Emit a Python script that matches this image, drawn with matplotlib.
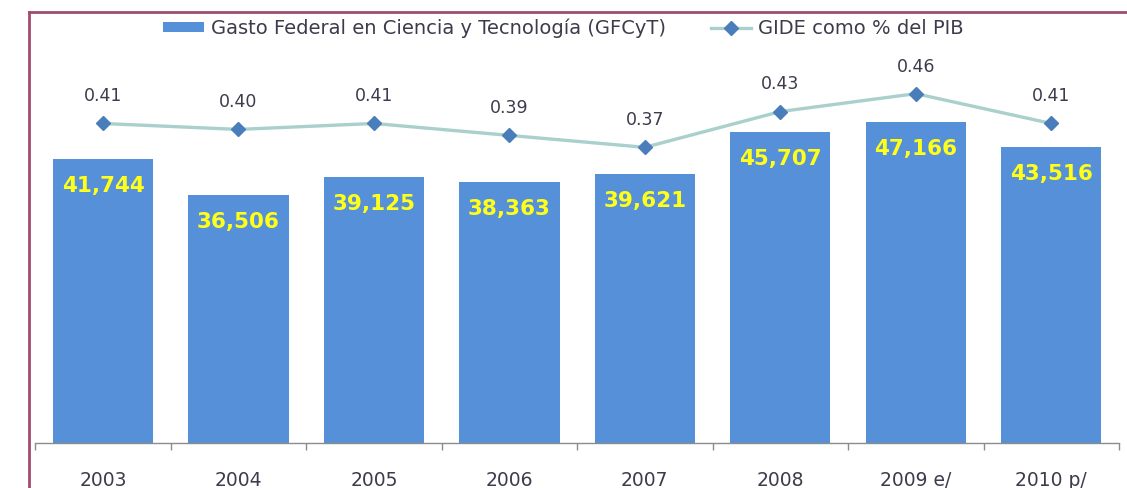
import matplotlib
matplotlib.use('Agg')
import matplotlib.pyplot as plt
from matplotlib.lines import Line2D
from matplotlib.ticker import FixedLocator

# datos
anios = ['2003', '2004', '2005', '2006', '2007', '2008', '2009 e/', '2010 p/']
gfcyt = [41744, 36506, 39125, 38363, 39621, 45707, 47166, 43516]
gide_pib = [0.41, 0.40, 0.41, 0.39, 0.37, 0.43, 0.46, 0.41]

color_barra = '#5590D8'
color_linea = '#A9D0CD'
color_marca = '#4A7EBB'
color_texto = '#3C3C4C'
color_borde = '#A04C70'

plt.rcParams['font.family'] = 'DejaVu Sans'

fig = plt.figure(figsize=(11.27, 4.88), dpi=100)
ax = fig.add_axes([0.0313, 0.0922, 0.9616, 0.8258])  # eje de barras
ax2 = ax.twinx()  # eje para el porcentaje

x = list(range(len(anios)))

barras = ax.bar(x, gfcyt, width=0.74, color=color_barra, zorder=2,
                label='Gasto Federal en Ciencia y Tecnología (GFCyT)')
ax.set_xlim(-0.5, len(anios) - 0.5)
ax.set_ylim(0, 59265)

# etiquetas amarillas dentro de las barras
for xi, v in zip(x, gfcyt):
    ax.annotate(f'{v:,}', (xi, v), xytext=(0, -19.5), textcoords='offset points',
                ha='center', va='center', fontsize=15.5, fontweight='bold',
                color='#FFFF1A', zorder=3)

linea, = ax2.plot(x, gide_pib, color=color_linea, lw=2.4, marker='D', markersize=7,
                  markerfacecolor=color_marca, markeredgecolor=color_marca,
                  label='GIDE como % del PIB', zorder=4)
ax2.set_ylim(-0.126, 0.550)
for xi, v in zip(x, gide_pib):
    ax2.annotate(f'{v:.2f}', (xi, v), xytext=(0, 19.5), textcoords='offset points',
                 ha='center', va='center', fontsize=12.5, color=color_texto)

# ejes: solo la linea base con marcas entre categorias
for a in (ax, ax2):
    for s in ['top', 'right', 'left']:
        a.spines[s].set_visible(False)
    a.set_yticks([])
ax2.spines['bottom'].set_visible(False)
ax.spines['bottom'].set_color('#8C8C8C')
ax.spines['bottom'].set_linewidth(1.0)

ax.set_xticks(x)
ax.set_xticklabels(anios, fontsize=13.5, color=color_texto)
ax.tick_params(axis='x', which='major', length=0, pad=20)
ax.xaxis.set_minor_locator(FixedLocator([i - 0.5 for i in range(len(anios) + 1)]))
ax.tick_params(axis='x', which='minor', length=5, width=1, color='#8C8C8C', direction='out')

# leyenda arriba, centrada
fig.legend(handles=[barras, linea], loc='center', bbox_to_anchor=(0.5, 0.942),
           ncol=2, frameon=False, fontsize=14, labelcolor=color_texto,
           handlelength=2.1, handleheight=0.45, columnspacing=2.3, handletextpad=0.35)

# borde del recuadro (izquierda y arriba)
fig.add_artist(Line2D([0.0257, 0.0257], [0, 0.9744], color=color_borde, lw=2))
fig.add_artist(Line2D([0.0257, 1.0], [0.9744, 0.9744], color=color_borde, lw=2))

fig.savefig('out.png', dpi=100)
